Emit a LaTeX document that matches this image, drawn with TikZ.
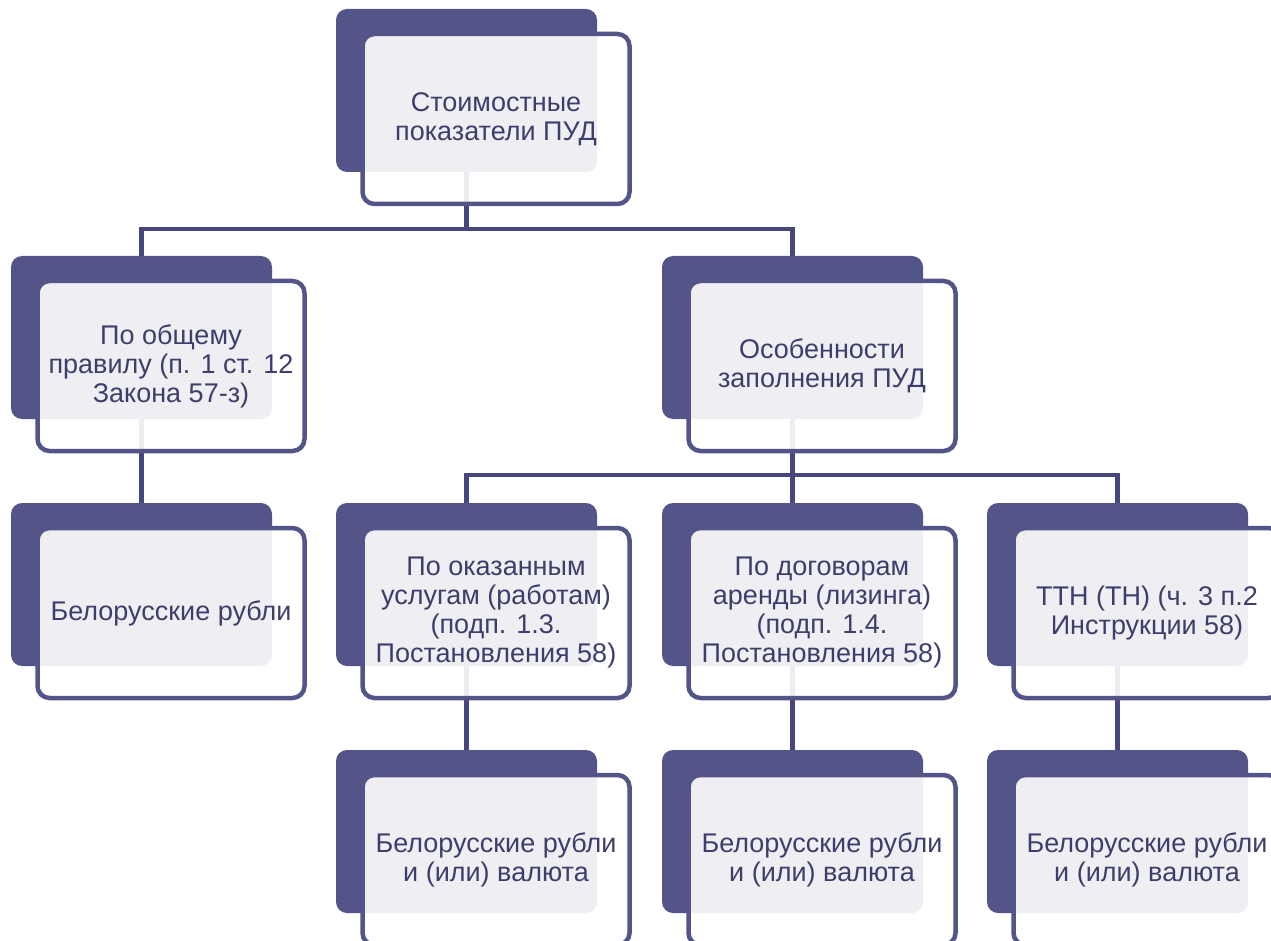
\documentclass[tikz,border=0pt]{standalone}
\usepackage{fontspec}
\setmainfont{Liberation Sans}
\pgfdeclarelayer{background}
\pgfsetlayers{background,main}
\definecolor{dk}{HTML}{535488}
\definecolor{tx}{HTML}{3E3E6C}
\definecolor{ln}{HTML}{47477C}
\tikzset{
  darkbox/.style={fill=dk, draw=none, rounded corners=11pt, minimum width=261pt, minimum height=163pt, inner sep=0pt},
  outbox/.style={draw=dk, line width=4.5pt, fill=white, fill opacity=0.9, text opacity=1, rounded corners=12pt,
     minimum width=267pt, minimum height=170pt, inner sep=0pt, align=center, text=tx,
     font=\fontsize{27pt}{29pt}\selectfont},
  conn/.style={draw=ln, line width=4.5pt},
}
\newcommand\pudbox[4]{%
  \node[darkbox] (#1) at (#2+130.5, #3+81.5) {};
  \node[outbox] (#1-o) at (#2+160, #3+110) {#4};
}
\begin{document}
\begin{tikzpicture}[x=1pt, y=-1pt]
\useasboundingbox (0,0) rectangle (1271,941);
\pudbox{top}{336}{9}{Стоимостные\\показатели ПУД}
\pudbox{gen}{11}{256}{По общему\\правилу (п. 1 ст. 12\\Закона 57-з)}
\pudbox{spec}{662}{256}{Особенности\\заполнения ПУД}
\pudbox{rub}{11}{503}{Белорусские рубли}
\pudbox{serv}{336}{503}{По оказанным\\услугам (работам)\\(подп. 1.3.\\Постановления 58)}
\pudbox{lease}{662}{503}{По договорам\\аренды (лизинга)\\(подп. 1.4.\\Постановления 58)}
\pudbox{ttn}{987}{503}{ТТН (ТН) (ч. 3 п.2\\Инструкции 58)}
\pudbox{cserv}{336}{750}{Белорусские рубли\\и (или) валюта}
\pudbox{clease}{662}{750}{Белорусские рубли\\и (или) валюта}
\pudbox{cttn}{987}{750}{Белорусские рубли\\и (или) валюта}
\coordinate (h1) at (0,229);
\coordinate (h2) at (0,475);
\begin{pgfonlayer}{background}
\draw[conn] (top.south) -- (top.south |- h1) -| (gen.north);
\draw[conn] (top.south |- h1) -| (spec.north);
\draw[conn] (gen.south) -- (rub.north);
\draw[conn] (spec.south) -- (spec.south |- h2) -| (serv.north);
\draw[conn] (spec.south |- h2) -- (lease.north);
\draw[conn] (spec.south |- h2) -| (ttn.north);
\draw[conn] (serv.south) -- (cserv.north);
\draw[conn] (lease.south) -- (clease.north);
\draw[conn] (ttn.south) -- (cttn.north);
\end{pgfonlayer}
\end{tikzpicture}
\end{document}
